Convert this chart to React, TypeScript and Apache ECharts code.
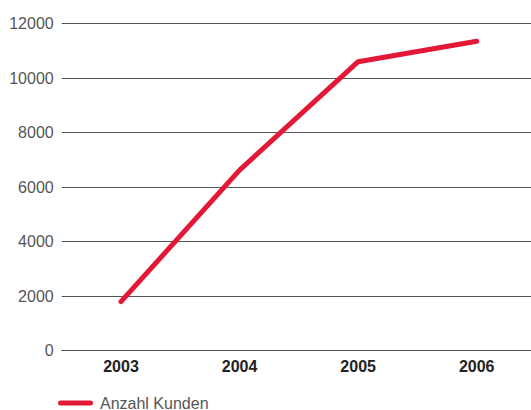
import React, { useEffect, useRef } from "react";
import * as echarts from "echarts";

const years = ["2003", "2004", "2005", "2006"];
const kunden = [1800, 6620, 10600, 11350];
const yTicks = { min: 0, max: 12000, interval: 2000 };
const seriesName = "Anzahl Kunden";

export default function App() {
  const ref = useRef<HTMLDivElement>(null);
  useEffect(() => {
    if (!ref.current) return;
    const chart = echarts.init(ref.current, null, { renderer: "svg" });
    const font = "'Liberation Sans', Arial, Helvetica, sans-serif";
    chart.setOption({
      animation: false,
      textStyle: { fontFamily: font },
      grid: { left: 61.7, width: 474.3, top: 23.5, height: 327.2, outerBoundsMode: "none" },
      xAxis: {
        type: "category",
        data: years,
        boundaryGap: true,
        axisLine: { show: true, lineStyle: { color: "#555", width: 1 } },
        axisTick: { show: false },
        splitLine: { show: false },
        axisLabel: {
          color: "#222",
          fontWeight: "bold",
          fontSize: 16,
          fontFamily: font,
          margin: 8,
        },
      },
      yAxis: {
        type: "value",
        min: yTicks.min,
        max: yTicks.max,
        interval: yTicks.interval,
        axisLine: { show: false },
        axisTick: { show: false },
        splitLine: { lineStyle: { color: "#555", width: 1 } },
        axisLabel: {
          color: "#555",
          fontSize: 16,
          fontFamily: font,
          margin: 8,
          formatter: (v: number) => String(v),
        },
      },
      legend: {
        left: 58,
        top: 395,
        padding: 0,
        itemWidth: 35,
        itemHeight: 5,
        itemGap: 10,
        icon: "path://M2.5,0 H32.5 A2.5,2.5 0 0 1 32.5,5 H2.5 A2.5,2.5 0 0 1 2.5,0 Z",
        textStyle: { color: "#555", fontSize: 16, fontFamily: font, padding: [0, 0, 0, 2] },
        data: [seriesName],
      },
      series: [
        {
          name: seriesName,
          type: "line",
          data: kunden,
          symbol: "none",
          itemStyle: { color: "#e31837" },
          lineStyle: { color: "#e31837", width: 5, cap: "round", join: "round" },
        },
      ],
    });
    return () => chart.dispose();
  }, []);
  return (
    <div
      style={{
        position: "fixed",
        left: 0,
        top: 0,
        width: 531,
        height: 410,
        overflow: "hidden",
        background: "#fff",
      }}
    >
      <div ref={ref} style={{ width: 545, height: 410 }} />
    </div>
  );
}
